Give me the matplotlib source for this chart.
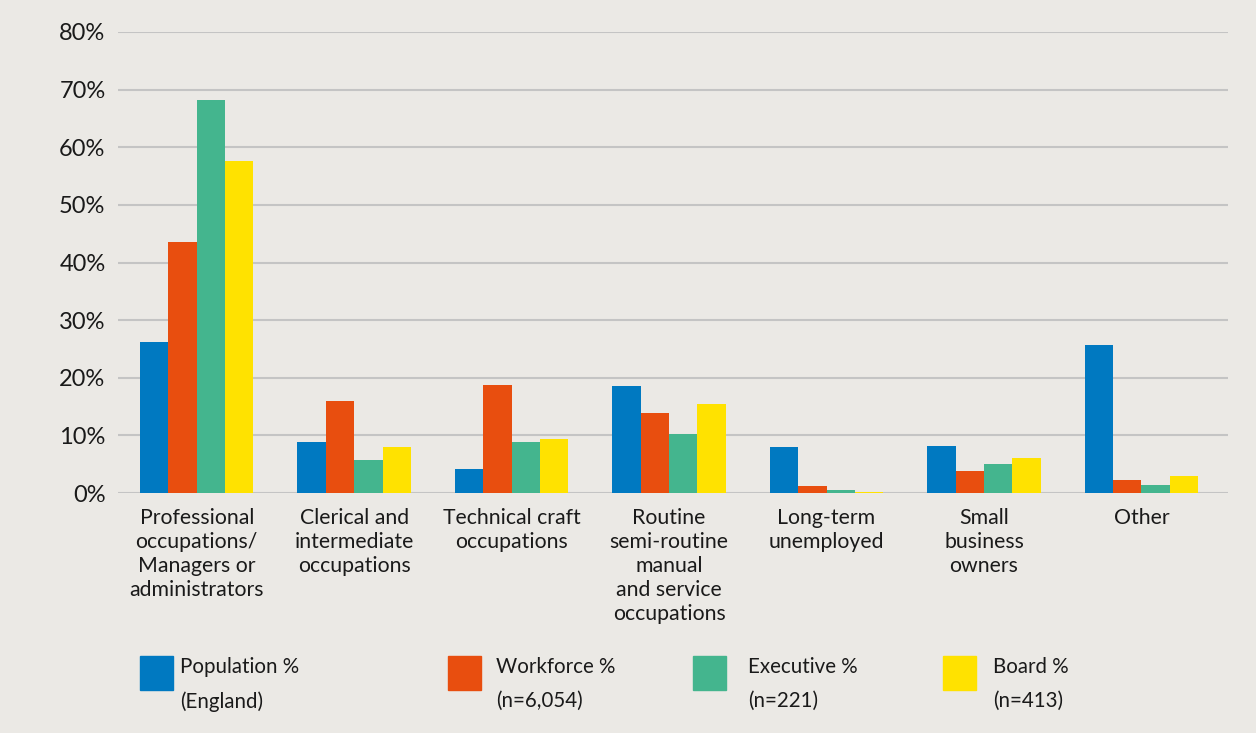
import matplotlib
matplotlib.use("Agg")
import matplotlib.pyplot as plt
import numpy as np
from matplotlib.patches import Rectangle

categories = [
    "Professional\noccupations/\nManagers or\nadministrators",
    "Clerical and\nintermediate\noccupations",
    "Technical craft\noccupations",
    "Routine\nsemi-routine\nmanual\nand service\noccupations",
    "Long-term\nunemployed",
    "Small\nbusiness\nowners",
    "Other",
]
population = [26.2, 8.9, 4.2, 18.5, 7.9, 8.1, 25.6]
workforce = [43.5, 16.0, 18.7, 13.8, 1.3, 3.9, 2.3]
executive = [68.2, 5.8, 8.8, 10.2, 0.6, 5.1, 1.4]
board = [57.7, 7.9, 9.3, 15.4, 0.2, 6.0, 3.0]

series_labels = ["Population %\n(England)", "Workforce %\n(n=6,054)",
                 "Executive %\n(n=221)", "Board %\n(n=413)"]
colors = ["#0079C1", "#E84E0F", "#44B58E", "#FFE200"]
yticks = [0, 10, 20, 30, 40, 50, 60, 70, 80]

BG = "#EBE9E5"
plt.rcParams["font.family"] = ["Lato", "DejaVu Sans"]

fig = plt.figure(figsize=(12.56, 7.33), dpi=100, facecolor=BG)
ax = fig.add_axes([118 / 1256, 1 - 493 / 733, 1110 / 1256, 461 / 733])
ax.set_facecolor(BG)

x = np.arange(len(categories))
w = 0.18
for i, vals in enumerate([population, workforce, executive, board]):
    ax.bar(x + (i - 1.5) * w, vals, width=w, color=colors[i], zorder=3)

ax.set_xlim(-0.5, 6.55)
ax.set_ylim(0, 80)
ax.set_yticks(yticks)
ax.set_yticklabels([f"{t}%" for t in yticks], fontsize=17, color="#1a1a1a")
ax.yaxis.grid(True, color="#C4C4C4", linewidth=1.5, zorder=0)
ax.tick_params(axis="y", length=0, pad=9)
ax.tick_params(axis="x", length=0, pad=11)
ax.set_xticks(x)
ax.set_xticklabels(categories, fontsize=15.3, color="#1a1a1a", linespacing=1.25,
                   va="top")
for s in ax.spines.values():
    s.set_visible(False)

# legend drawn by hand: swatch plus two-line label
sw_x = [140, 448, 693, 943]
tx_x = [180, 496, 748, 993]
for i, lab in enumerate(series_labels):
    fig.patches.append(Rectangle((sw_x[i] / 1256, 1 - 690 / 733), 33 / 1256, 34 / 733,
                                 transform=fig.transFigure, color=colors[i]))
    fig.text(tx_x[i] / 1256, 1 - 657 / 733, lab, fontsize=14.8, va="top",
             ha="left", linespacing=1.85, color="#1a1a1a")

fig.savefig("out.png", dpi=100, facecolor=BG)
